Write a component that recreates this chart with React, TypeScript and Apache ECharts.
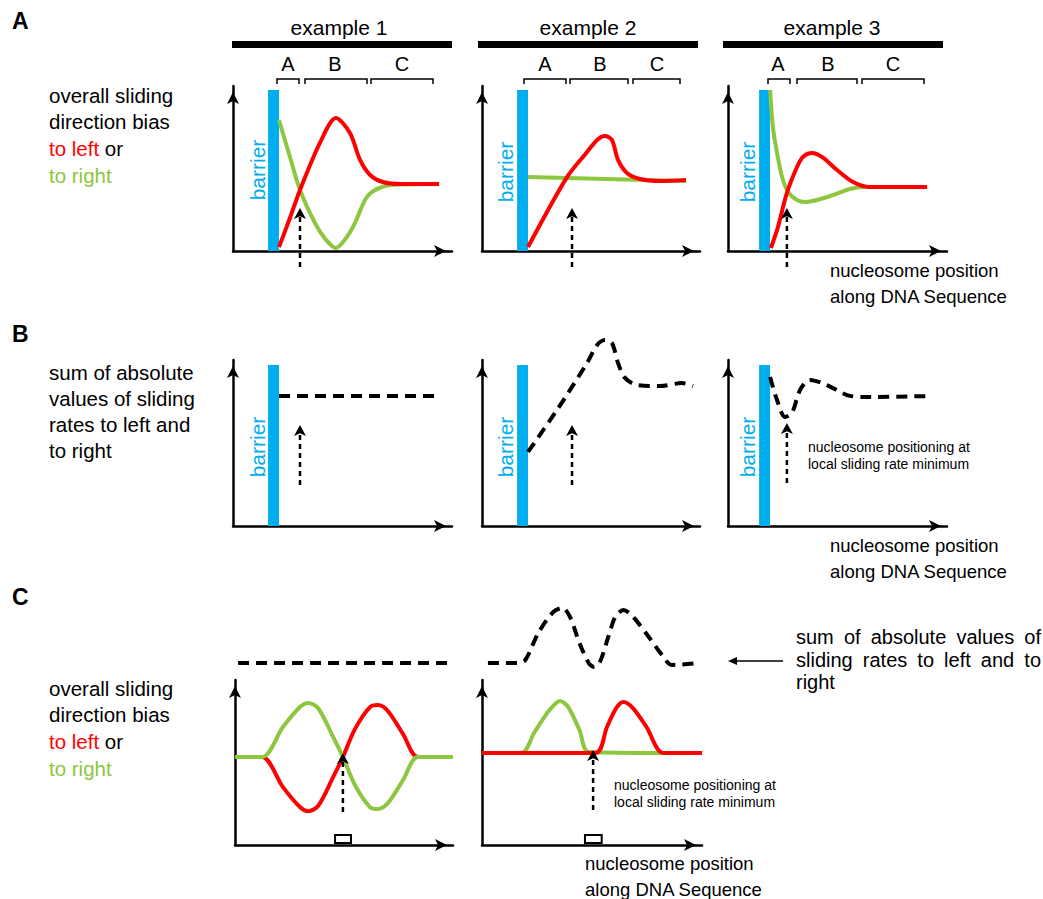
import React, { useEffect, useRef } from 'react';
import * as echarts from 'echarts';

const RED = '#FF0000';
const GREEN = '#8DC63F';
const CYAN = '#00AEEF';
const FF = 'Helvetica, Arial, "Liberation Sans", sans-serif';

// ---------- data (x: position 0-100 along each axis, y: value 0-100) ----------
// Panel A, example 1
const a1Red = [[21, 2.4], [26, 20], [30.6, 37], [39.7, 65.5], [47, 80.6], [53.4, 71.5], [58, 55.2], [62.6, 46.1], [68.5, 41.8], [76.3, 40.6], [94.1, 40.6]];
const a1Green = [[21, 79.4], [26, 57], [30.6, 37], [37.4, 17], [42, 7.5], [47, 1.8], [52, 8.5], [55.7, 17], [60.3, 31], [63.5, 35.8], [69.4, 39.4], [76.3, 40.3], [94.1, 40.6]];
// Panel A, example 2
const a2Red = [[21.1, 2.4], [39, 44.8], [48.2, 60], [52.8, 67.3], [56.4, 69.7], [59.6, 67.3], [62.4, 55.2], [66.5, 47.3], [72.5, 43.6], [81.7, 42.4], [93.6, 43]];
const a2Green = [[21.1, 44.8], [57, 43.6], [93.6, 42.4]];
// Panel A, example 3
const a3Red = [[19.6, 1.8], [22.8, 14.5], [26.9, 35.2], [31.5, 50.9], [34.2, 57], [38.4, 59.4], [42.9, 57], [49.8, 49.1], [57.1, 41.8], [64.8, 38.8], [90.9, 38.8]];
const a3Green = [[19.2, 97.6], [20.5, 75.2], [22.4, 59.4], [24.7, 44.8], [27.4, 35.8], [31.5, 30.9], [35.2, 29.7], [40.6, 30.9], [47.9, 33.9], [55.7, 37.6], [61.6, 38.8], [90.9, 38.8]];
// Panel B: sum of absolute sliding rates
const b1Sum = [[21, 78.3], [93.2, 78.3]];
const b2Sum = [[21.1, 44.6], [34.4, 69.9], [48.2, 98.2], [52.8, 109], [56.4, 112], [59.6, 110.2], [62.4, 98.2], [65.6, 89.2], [71.1, 84.9], [81.7, 84.3], [91.7, 86.1], [96.8, 84.3]];
const b3Sum = [[19.2, 89.8], [22.4, 75.9], [26, 65.7], [29.2, 68.1], [32.9, 81.9], [37.4, 88], [45.2, 84.9], [54.3, 78.9], [61.6, 77.7], [93.2, 78.3]];
// Panel C, left
const c1Green = [[0, 53.3], [12.4, 53.3], [22, 71.5], [29.8, 83.6], [33.5, 86.1], [38.1, 83], [45, 65.5], [49.5, 53.3], [55, 36.4], [61.9, 23], [65.6, 21.8], [70.2, 25.5], [77.1, 39.4], [83.9, 53.3], [100, 53.3]];
const c1Red = [[0, 53.3], [12.4, 53.3], [22, 35.1], [29.8, 23], [33.5, 20.5], [38.1, 23.6], [45, 41.1], [49.5, 53.3], [55, 70.2], [61.9, 83.6], [65.6, 84.8], [70.2, 81.1], [77.1, 67.2], [83.9, 53.3], [100, 53.3]];
const c1Sum = [[1.4, 21.3], [100, 21.3]];
// Panel C, right
const c2Green = [[0, 55.8], [17.9, 55.8], [23.9, 68.5], [30.7, 81.8], [35.5, 87.3], [39.2, 83.6], [44.3, 69.7], [48.5, 56.4], [82.4, 55.8]];
const c2Red = [[0, 55.8], [51.6, 55.8], [56.8, 71.5], [61, 83], [64.3, 86.7], [68.6, 83], [74.8, 71.5], [82.4, 55.8], [100, 55.8]];
const c2Sum = [[2.7, 21.3], [16.3, 21.3], [19.7, 25], [25.6, 58.8], [32.4, 85], [36.6, 90], [40, 78.8], [44.3, 46.3], [48.5, 21.3], [51, 16.3], [53.6, 22.5], [57.4, 53.8], [60.6, 78.8], [64.3, 87.5], [68.7, 78.8], [75.8, 53.8], [81.8, 31.3], [86.2, 18.8], [98.5, 21.3]];

// barriers [xFrom, xTo, top]
const barrierA1 = [16, 21, 97.6];
const barrierA2 = [16.1, 21.1, 97.6];
const barrierA3 = [14.2, 19.2, 97.6];
const barrierB1 = [16, 21, 97];
const barrierB2 = [16.1, 21.1, 97];
const barrierB3 = [14.2, 19.2, 97];
// dashed pointer arrows [x, yFrom, yTip]
const arrowA1 = [30.6, -9.7, 23];
const arrowA2 = [41.3, -9.7, 23];
const arrowA3 = [26.9, -9.7, 23];
const arrowB1 = [30.6, 24.7, 57.8];
const arrowB2 = [41.3, 24.7, 57.8];
const arrowB3 = [26.9, 25.9, 59];
const arrowC1 = [49.5, 20, 52.7];
const arrowC2 = [50.5, 21.2, 54.5];
// nucleosome boxes [x0, x1, y0, y1]
const boxC1 = [45.9, 53.2, 1.2, 6.1];
const boxC2 = [46.8, 54.4, 1.2, 6.1];

const exampleLabels = ['example 1', 'example 2', 'example 3'];
const regionLabels = ['A', 'B', 'C'];

// ---------- layout ----------
const grids = [
  { left: 233, top: 86, width: 219, height: 165 },
  { left: 482, top: 86, width: 218, height: 165 },
  { left: 728, top: 86, width: 219, height: 165 },
  { left: 233, top: 360, width: 219, height: 166 },
  { left: 482, top: 360, width: 218, height: 166 },
  { left: 728, top: 360, width: 219, height: 166 },
  { left: 235, top: 680, width: 218, height: 165 },
  { left: 482, top: 680, width: 220, height: 165 },
  { left: 235, top: 600, width: 218, height: 80 },
  { left: 482, top: 600, width: 220, height: 80 },
];

function measure(text: string, font: string) {
  const c = document.createElement('canvas').getContext('2d')!;
  c.font = font;
  return c.measureText(text).width;
}

function justified(words: string[], x: number, y: number, width: number, size: number) {
  const font = `${size}px ${FF}`;
  const ws = words.map((w) => measure(w, font));
  const total = ws.reduce((a, b) => a + b, 0);
  const gap = (width - total) / (words.length - 1);
  let cx = x;
  return words.map((w, i) => {
    const el = { type: 'text', x: cx, y, silent: true, style: { text: w, fontSize: size, fontFamily: FF, fill: '#000', verticalAlign: 'middle' } };
    cx += ws[i] + gap;
    return el;
  });
}

const txt = (text: string, x: number, y: number, size: number, extra: any = {}) => ({
  type: 'text', x, y, silent: true,
  style: { text, fontSize: size, fontFamily: FF, fill: '#000', verticalAlign: 'middle', align: 'left', ...extra },
});

function curve(g: number, data: number[][], color: string, extra: any = {}) {
  return {
    type: 'line', xAxisIndex: g, yAxisIndex: g, data, smooth: 0.3, symbol: 'none', showSymbol: false,
    clip: false, silent: true, lineStyle: { color, width: 4, join: 'round' }, itemStyle: { color }, ...extra,
  };
}

function dashed(g: number, data: number[][], extra: any = {}) {
  return curve(g, data, '#000', { lineStyle: { color: '#000', width: 4, type: [11, 7] }, ...extra });
}

function barrierArea(b: number[]) {
  return {
    silent: true, label: { show: false }, itemStyle: { color: CYAN, opacity: 1 },
    data: [[{ coord: [b[0], 0] }, { coord: [b[1], b[2]] }]],
  };
}

function boxArea(b: number[]) {
  return {
    silent: true, label: { show: false }, itemStyle: { color: '#fff', opacity: 1, borderColor: '#000', borderWidth: 2 },
    data: [[{ coord: [b[0], b[2]] }, { coord: [b[1], b[3]] }]],
  };
}

function pointer(g: number, a: number[]) {
  return {
    type: 'line', xAxisIndex: g, yAxisIndex: g, clip: false, silent: true, z: 5,
    data: [
      { value: [a[0], a[1]], symbol: 'none' },
      { value: [a[0], a[2]], symbol: 'arrow', symbolSize: [9, 11], symbolOffset: [0, -5] },
    ],
    showSymbol: true, lineStyle: { color: '#000', width: 2.5, type: [5, 4] }, itemStyle: { color: '#000' },
  };
}

export default function App() {
  const ref = useRef<HTMLDivElement>(null);
  useEffect(() => {
    document.body.style.margin = '0';
    const chart = echarts.init(ref.current!, null, { renderer: 'svg' });

    const axisLine = (show: boolean) => ({
      show, onZero: false, symbol: ['none', 'arrow'], symbolSize: [9, 12], symbolOffset: [0, -6],
      lineStyle: { color: '#000', width: 2.5 },
    });
    const xAxis = grids.map((_, i) => ({
      type: 'value', gridIndex: i, min: 0, max: 100, show: i < 8,
      axisLine: axisLine(i < 8), axisTick: { show: false }, axisLabel: { show: false }, splitLine: { show: false },
    }));
    const yAxis = grids.map((_, i) => ({
      type: 'value', gridIndex: i, min: 0, max: 100, show: i < 8,
      axisLine: axisLine(i < 8), axisTick: { show: false }, axisLabel: { show: false }, splitLine: { show: false },
    }));

    const series: any[] = [
      curve(0, a1Green, GREEN, { markArea: barrierArea(barrierA1) }),
      curve(0, a1Red, RED),
      pointer(0, arrowA1),
      curve(1, a2Green, GREEN, { smooth: false, markArea: barrierArea(barrierA2) }),
      curve(1, a2Red, RED),
      pointer(1, arrowA2),
      curve(2, a3Green, GREEN, { markArea: barrierArea(barrierA3) }),
      curve(2, a3Red, RED),
      pointer(2, arrowA3),
      dashed(3, b1Sum, { smooth: false, markArea: barrierArea(barrierB1) }),
      pointer(3, arrowB1),
      dashed(4, b2Sum, { markArea: barrierArea(barrierB2) }),
      pointer(4, arrowB2),
      dashed(5, b3Sum, { markArea: barrierArea(barrierB3) }),
      pointer(5, arrowB3),
      curve(6, c1Red, RED, { markArea: boxArea(boxC1) }),
      curve(6, c1Green, GREEN),
      pointer(6, arrowC1),
      curve(7, c2Green, GREEN, { markArea: boxArea(boxC2) }),
      curve(7, c2Red, RED),
      pointer(7, arrowC2),
      dashed(8, c1Sum, { smooth: false }),
      dashed(9, c2Sum),
    ];

    const g: any[] = [];
    // panel letters
    [['A', 21], ['B', 334], ['C', 597]].forEach(([t, y]) =>
      g.push(txt(t as string, 12, y as number, 23, { fontWeight: 'bold' })));
    // example headers + bars
    const cols = [
      { bar: [232, 452], center: 339, br: [[277, 299], [305, 367], [371, 433]], lab: [288, 335, 402] },
      { bar: [478, 698], center: 588, br: [[524, 566], [570, 628], [633, 680]], lab: [545, 600, 657] },
      { bar: [723, 943], center: 832, br: [[768, 790], [797, 857], [862, 924]], lab: [778, 828, 893] },
    ];
    cols.forEach((c, i) => {
      g.push(txt(exampleLabels[i], c.center, 27, 21, { align: 'center' }));
      g.push({ type: 'rect', silent: true, shape: { x: c.bar[0], y: 41, width: c.bar[1] - c.bar[0], height: 7 }, style: { fill: '#000' } });
      c.br.forEach((b, j) => {
        g.push({ type: 'polyline', silent: true, shape: { points: [[b[0], 84], [b[0], 79], [b[1], 79], [b[1], 84]] }, style: { stroke: '#000', lineWidth: 1.5, fill: null } });
        g.push(txt(regionLabels[j], c.lab[j], 64, 20, { align: 'center' }));
      });
    });
    // barrier labels
    [[257, 170], [505, 172], [747, 172], [257, 447], [505, 447], [747, 447]].forEach(([x, y]) =>
      g.push({ type: 'text', x, y, rotation: Math.PI / 2, silent: true, style: { text: 'barrier', fontSize: 21, fontFamily: FF, fill: CYAN, align: 'center', verticalAlign: 'middle' } }));
    // left descriptions
    const biasText = (y0: number) => {
      g.push(txt('overall sliding', 49, y0, 20.5));
      g.push(txt('direction bias', 49, y0 + 26.7, 20.5));
      g.push(txt('{r|to left} or', 49, y0 + 53.3, 20.5, { rich: { r: { fill: RED, fontSize: 20.5, fontFamily: FF } } }));
      g.push(txt('to right', 49, y0 + 80, 20.5, { fill: GREEN }));
    };
    biasText(95);
    biasText(688);
    ['sum of absolute', 'values of sliding', 'rates to left and', 'to right'].forEach((t, i) =>
      g.push(txt(t, 49, 372 + i * 26.2, 20.5)));
    // x-axis titles
    [[830, 270], [830, 545], [585, 863]].forEach(([x, y]) => {
      g.push(txt('nucleosome position', x, y, 18.5));
      g.push(txt('along DNA Sequence', x, y + 26.5, 18.5));
    });
    // annotations
    [[808, 447], [614, 785]].forEach(([x, y]) => {
      g.push(txt('nucleosome positioning at', x, y, 14));
      g.push(txt('local sliding rate minimum', x, y + 16.7, 14));
    });
    // right-hand label with pointer arrow
    g.push({ type: 'line', silent: true, shape: { x1: 783, y1: 661, x2: 734, y2: 661 }, style: { stroke: '#000', lineWidth: 1.5 } });
    g.push({ type: 'polygon', silent: true, shape: { points: [[728, 661], [737, 657], [737, 665]] }, style: { fill: '#000' } });
    g.push(...justified(['sum', 'of', 'absolute', 'values', 'of'], 796, 637, 245, 20));
    g.push(...justified(['sliding', 'rates', 'to', 'left', 'and', 'to'], 796, 660, 245, 20));
    g.push(txt('right', 796, 682, 20));

    chart.setOption({
      animation: false,
      backgroundColor: '#fff',
      grid: grids.map((gr) => ({ ...gr, containLabel: false })),
      xAxis, yAxis, series, graphic: g,
    });
    return () => chart.dispose();
  }, []);
  return <div ref={ref} style={{ width: 1043, height: 899 }} />;
}
